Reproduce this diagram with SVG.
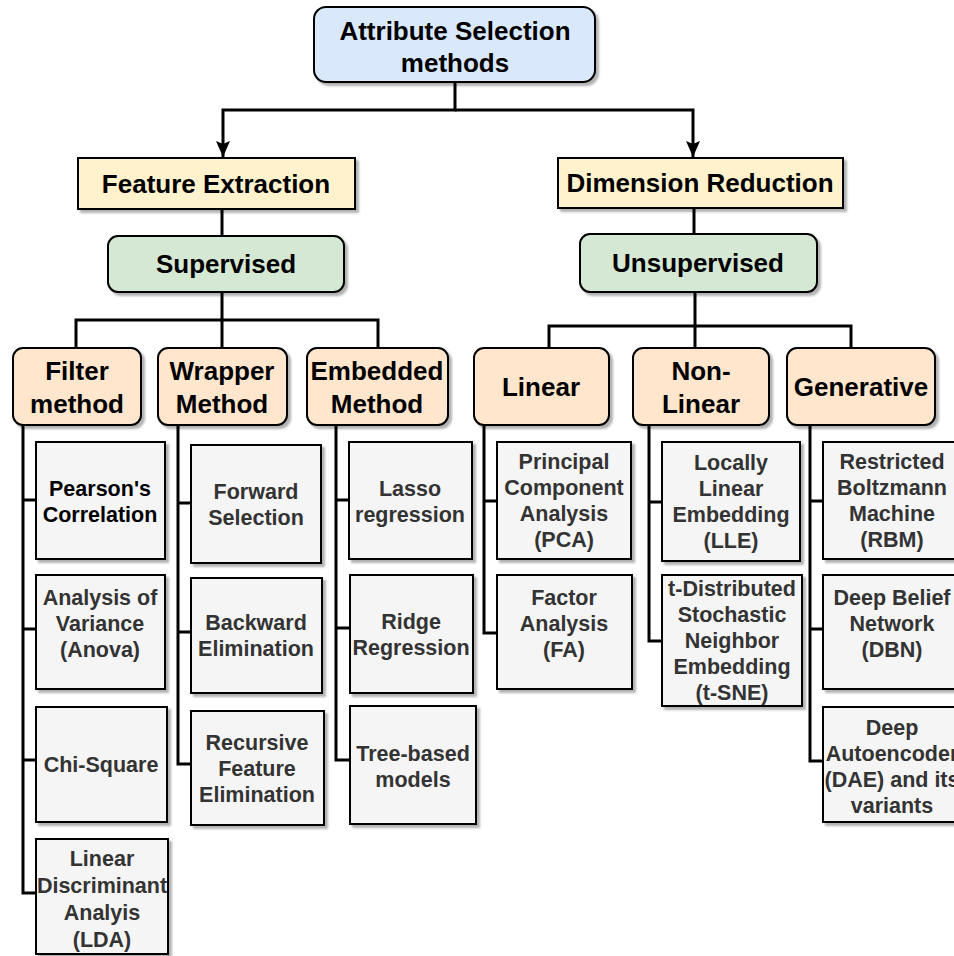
<svg xmlns="http://www.w3.org/2000/svg" width="954" height="956" viewBox="0 0 954 956">
  <defs>
    <filter id="shadow" x="-10%" y="-10%" width="130%" height="130%">
      <feDropShadow dx="3" dy="3" stdDeviation="0.8" flood-color="#000" flood-opacity="0.3"/>
    </filter>
    <marker id="arrow" markerUnits="userSpaceOnUse" markerWidth="18" markerHeight="16" refX="16" refY="7" orient="auto">
      <path d="M0,0 L16,7 L0,14 L3,7 z" fill="#000"/>
    </marker>
  </defs>
  <style>
    rect { stroke: #000; stroke-width: 2; filter: url(#shadow); }
    .root { fill: #dae8fc; }
    .branch { fill: #fff2cc; }
    .learn { fill: #d5e8d4; }
    .cat { fill: #ffe6cc; }
    .leaf { fill: #f5f5f5; }
    text { font-family: "Liberation Sans", Arial, sans-serif; font-weight: bold; text-anchor: middle; }
    .t26 { font-size: 26px; fill: #000; }
    .t21 { font-size: 21.5px; fill: #333; }
    .dark { fill: #000; }
    .conn path { fill: none; stroke: #000; stroke-width: 3; }
  </style>

  <!-- connectors -->
  <g id="connectors" class="conn">
    <path d="M455 82 V110 H223 V157" marker-end="url(#arrow)"/>
    <path d="M455 110 H693 V157" marker-end="url(#arrow)"/>
    <path d="M222 209 V236"/>
    <path d="M694 208 V234"/>
    <path d="M222 292 V348"/>
    <path d="M76 348 V320 H378 V348"/>
    <path d="M695 292 V348"/>
    <path d="M549 348 V326 H851 V348"/>
    <!-- filter method -->
    <path d="M23 425 V893 H36 M23 500 H36 M23 629 H36 M23 760 H36"/>
    <!-- wrapper method -->
    <path d="M178 425 V764 H191 M178 503 H191 M178 632 H191"/>
    <!-- embedded method -->
    <path d="M336 425 V760 H350 M336 500 H349 M336 628 H350"/>
    <!-- linear -->
    <path d="M484 425 V633 H497 M484 501 H497"/>
    <!-- non-linear -->
    <path d="M649 425 V641 H662 M649 502 H662"/>
    <!-- generative -->
    <path d="M810 425 V761 H823 M810 501 H823 M810 629 H823"/>
  </g>

  <!-- top level -->
  <g id="attribute-selection">
    <rect class="root" x="314" y="7" width="281" height="75" rx="12"/>
    <text class="t26" x="455" y="40">Attribute Selection</text>
    <text class="t26" x="455" y="72">methods</text>
  </g>

  <g id="feature-extraction">
    <rect class="branch" x="78" y="158" width="277" height="51"/>
    <text class="t26" x="216" y="193">Feature Extraction</text>
  </g>
  <g id="dimension-reduction">
    <rect class="branch" x="558" y="158" width="285" height="50"/>
    <text class="t26" x="700" y="192">Dimension Reduction</text>
  </g>

  <g id="supervised">
    <rect class="learn" x="108" y="236" width="236" height="56" rx="10"/>
    <text class="t26" x="226" y="273">Supervised</text>
  </g>
  <g id="unsupervised">
    <rect class="learn" x="580" y="234" width="237" height="58" rx="10"/>
    <text class="t26" x="698" y="272">Unsupervised</text>
  </g>

  <!-- categories -->
  <g id="filter-method">
    <rect class="cat" x="13" y="348" width="128" height="77" rx="10"/>
    <text class="t26" x="77" y="380">Filter</text>
    <text class="t26" x="77" y="413">method</text>
  </g>
  <g id="wrapper-method">
    <rect class="cat" x="158" y="348" width="129" height="77" rx="10"/>
    <text class="t26" x="222" y="380">Wrapper</text>
    <text class="t26" x="222" y="413">Method</text>
  </g>
  <g id="embedded-method">
    <rect class="cat" x="307" y="348" width="141" height="77" rx="10"/>
    <text class="t26" x="377" y="380">Embedded</text>
    <text class="t26" x="377" y="413">Method</text>
  </g>
  <g id="linear">
    <rect class="cat" x="474" y="348" width="135" height="77" rx="10"/>
    <text class="t26" x="541" y="396">Linear</text>
  </g>
  <g id="non-linear">
    <rect class="cat" x="633" y="348" width="136" height="77" rx="10"/>
    <text class="t26" x="701" y="380">Non-</text>
    <text class="t26" x="701" y="413">Linear</text>
  </g>
  <g id="generative">
    <rect class="cat" x="787" y="348" width="148" height="77" rx="10"/>
    <text class="t26" x="861" y="396">Generative</text>
  </g>

  <!-- filter method leaves -->
  <g id="pearson">
    <rect class="leaf" x="36" y="442" width="129" height="117"/>
    <text class="t21 dark" x="100" y="496">Pearson's</text>
    <text class="t21 dark" x="100" y="522">Correlation</text>
  </g>
  <g id="anova">
    <rect class="leaf" x="36" y="575" width="129" height="114"/>
    <text class="t21" x="100" y="605">Analysis of</text>
    <text class="t21" x="100" y="631">Variance</text>
    <text class="t21" x="100" y="657">(Anova)</text>
  </g>
  <g id="chi-square">
    <rect class="leaf" x="36" y="707" width="131" height="115"/>
    <text class="t21" x="101" y="772">Chi-Square</text>
  </g>
  <g id="lda">
    <rect class="leaf" x="36" y="839" width="132" height="115"/>
    <text class="t21" x="102" y="866">Linear</text>
    <text class="t21" x="102" y="893">Discriminant</text>
    <text class="t21" x="102" y="920">Analyis</text>
    <text class="t21" x="102" y="947">(LDA)</text>
  </g>

  <!-- wrapper method leaves -->
  <g id="forward-selection">
    <rect class="leaf" x="191" y="445" width="130" height="118"/>
    <text class="t21" x="256" y="499">Forward</text>
    <text class="t21" x="256" y="525">Selection</text>
  </g>
  <g id="backward-elimination">
    <rect class="leaf" x="191" y="578" width="131" height="115"/>
    <text class="t21" x="256" y="630">Backward</text>
    <text class="t21" x="256" y="656">Elimination</text>
  </g>
  <g id="recursive-feature-elimination">
    <rect class="leaf" x="191" y="711" width="133" height="114"/>
    <text class="t21" x="257" y="750">Recursive</text>
    <text class="t21" x="257" y="776">Feature</text>
    <text class="t21" x="257" y="802">Elimination</text>
  </g>

  <!-- embedded method leaves -->
  <g id="lasso">
    <rect class="leaf" x="349" y="442" width="123" height="117"/>
    <text class="t21" x="410" y="496">Lasso</text>
    <text class="t21" x="410" y="522">regression</text>
  </g>
  <g id="ridge">
    <rect class="leaf" x="350" y="575" width="123" height="118"/>
    <text class="t21" x="411" y="629">Ridge</text>
    <text class="t21" x="411" y="655">Regression</text>
  </g>
  <g id="tree-based">
    <rect class="leaf" x="350" y="706" width="126" height="118"/>
    <text class="t21" x="413" y="761">Tree-based</text>
    <text class="t21" x="413" y="787">models</text>
  </g>

  <!-- linear leaves -->
  <g id="pca">
    <rect class="leaf" x="497" y="442" width="134" height="117"/>
    <text class="t21" x="564" y="469">Principal</text>
    <text class="t21" x="564" y="495">Component</text>
    <text class="t21" x="564" y="521">Analysis</text>
    <text class="t21" x="564" y="547">(PCA)</text>
  </g>
  <g id="fa">
    <rect class="leaf" x="497" y="575" width="135" height="114"/>
    <text class="t21" x="564" y="605">Factor</text>
    <text class="t21" x="564" y="631">Analysis</text>
    <text class="t21" x="564" y="657">(FA)</text>
  </g>

  <!-- non-linear leaves -->
  <g id="lle">
    <rect class="leaf" x="662" y="442" width="138" height="119"/>
    <text class="t21" x="731" y="470">Locally</text>
    <text class="t21" x="731" y="496">Linear</text>
    <text class="t21" x="731" y="522">Embedding</text>
    <text class="t21" x="731" y="548">(LLE)</text>
  </g>
  <g id="t-sne">
    <rect class="leaf" x="662" y="575" width="140" height="131"/>
    <text class="t21" x="732" y="596">t-Distributed</text>
    <text class="t21" x="732" y="622">Stochastic</text>
    <text class="t21" x="732" y="648">Neighbor</text>
    <text class="t21" x="732" y="674">Embedding</text>
    <text class="t21" x="732" y="700">(t-SNE)</text>
  </g>

  <!-- generative leaves -->
  <g id="rbm">
    <rect class="leaf" x="823" y="442" width="140" height="117"/>
    <text class="t21" x="892" y="469">Restricted</text>
    <text class="t21" x="892" y="495">Boltzmann</text>
    <text class="t21" x="892" y="521">Machine</text>
    <text class="t21" x="892" y="547">(RBM)</text>
  </g>
  <g id="dbn">
    <rect class="leaf" x="823" y="575" width="140" height="114"/>
    <text class="t21" x="892" y="605">Deep Belief</text>
    <text class="t21" x="892" y="631">Network</text>
    <text class="t21" x="892" y="657">(DBN)</text>
  </g>
  <g id="dae">
    <rect class="leaf" x="823" y="707" width="140" height="115"/>
    <text class="t21" x="892" y="735">Deep</text>
    <text class="t21" x="892" y="761">Autoencoder</text>
    <text class="t21" x="892" y="787">(DAE) and its</text>
    <text class="t21" x="892" y="813">variants</text>
  </g>
</svg>
